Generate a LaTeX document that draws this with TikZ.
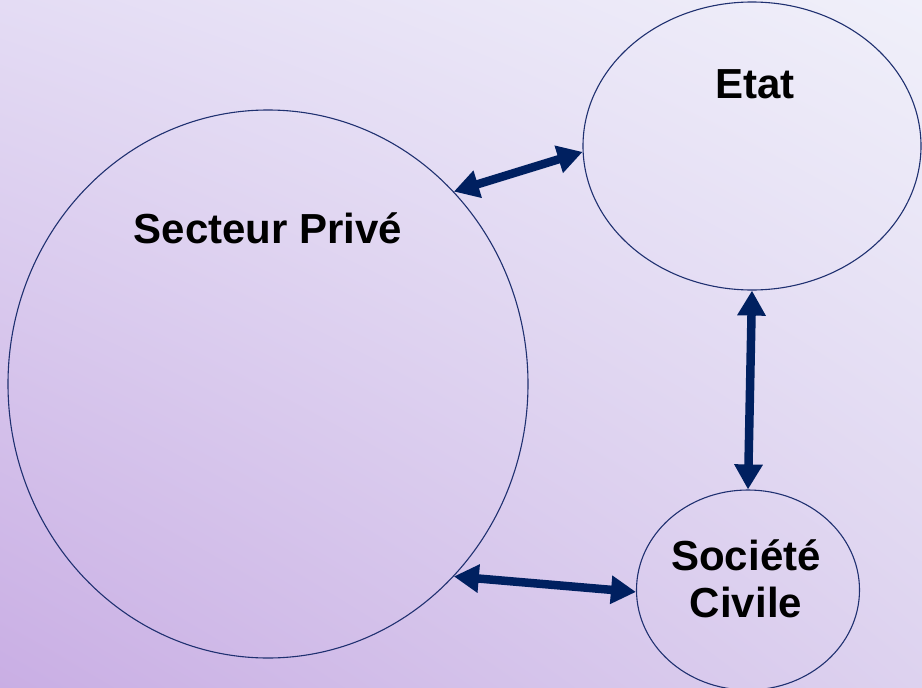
\documentclass[tikz,border=0pt]{standalone}
\usepackage{fontspec}
\setmainfont{Liberation Sans}
\usetikzlibrary{shapes.geometric,arrows.meta,shadings}
\definecolor{outl}{HTML}{1F3070}
\definecolor{arr}{HTML}{002060}
\definecolor{bgUR}{HTML}{F0F0FA}
\definecolor{bgUL}{HTML}{E4DCF4}
\definecolor{bgLL}{HTML}{C9AEE4}
\definecolor{bgLR}{HTML}{DDD2EF}
\tikzset{
  bubble/.style={draw=outl, line width=1.1pt, ellipse, inner sep=0pt},
  lbl/.style={font=\bfseries\fontsize{42}{47}\selectfont, text=black, align=center, inner sep=0pt},
  link/.style={draw=arr, line width=8.5pt, {Triangle[length=25pt,width=27pt]}-{Triangle[length=25pt,width=27pt]}, shorten <=0pt, shorten >=0pt}
}
\begin{document}
\begin{tikzpicture}[x=1pt,y=-1pt]
\useasboundingbox (0,0) rectangle (922,688);
\shade[upper left=bgUL, upper right=bgUR, lower left=bgLL, lower right=bgLR] (0,0) rectangle (922,688);
\node[bubble, minimum width=520pt, minimum height=548pt] (sp) at (268,384) {};
\node[bubble, minimum width=338pt, minimum height=288pt] (etat) at (752,146) {};
\node[bubble, minimum width=223pt, minimum height=200pt] (sc) at (748,590) {};
\node[lbl, anchor=base] (tsp) at (268,243) {Secteur Privé};
\node[lbl, anchor=base] (tetat) at (755,98) {Etat};
\node[lbl, anchor=base] (tsc) at (746,617) {Société\\Civile};
\draw[link] (sp.46) -- (etat.182);
\draw[link] (etat.-90) -- (sc.90);
\draw[link] (sp.-46) -- (sc.181);
\end{tikzpicture}
\end{document}
